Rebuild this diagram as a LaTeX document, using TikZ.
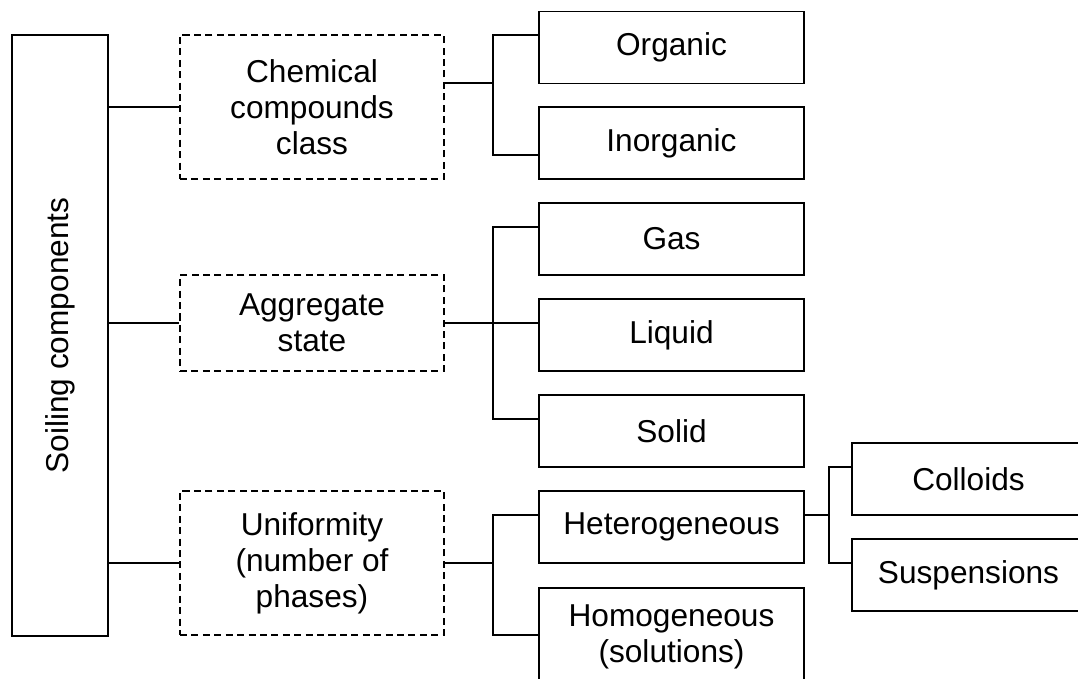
\documentclass[tikz,border=0pt]{standalone}
\usepackage{fontspec}
\setmainfont{Liberation Sans}
\tikzstyle{root} = [rectangle, minimum width=1.92cm, minimum height=12.02cm, text centered, draw=black, line width=0.9pt, font=\fontsize{18pt}{20.5pt}\selectfont]
\tikzstyle{group} = [rectangle, minimum width=5.28cm, align=center, draw=black, line width=0.9pt, dash pattern=on 4pt off 2.5pt, font=\fontsize{18pt}{20.5pt}\selectfont]
\tikzstyle{leaf} = [rectangle, minimum width=5.3cm, minimum height=1.44cm, align=center, draw=black, line width=0.9pt, font=\fontsize{18pt}{20.5pt}\selectfont]
\tikzstyle{small} = [leaf, minimum width=4.66cm]
\tikzstyle{link} = [line width=0.9pt]

\begin{document}
\begin{tikzpicture}
        \useasboundingbox (0,0) rectangle (21.56,-13.58);
        \clip (0,0) rectangle (21.56,-13.58);
        \node (soil) [root, xshift=1.2cm, yshift=-6.71cm] {\rotatebox{90}{Soiling components}};

        \node (chem) [group, minimum height=2.88cm, xshift=6.24cm, yshift=-2.14cm] {Chemical\\compounds\\class};
        \node (aggr) [group, minimum height=1.92cm, xshift=6.24cm, yshift=-6.46cm] {Aggregate\\state};
        \node (unif) [group, minimum height=2.88cm, xshift=6.24cm, yshift=-11.26cm] {Uniformity\\(number of\\phases)};

        \node (org) [leaf, xshift=13.43cm, yshift=-0.95cm] {Organic};
        \node (inorg) [leaf, xshift=13.43cm, yshift=-2.86cm] {Inorganic};
        \node (gas) [leaf, xshift=13.43cm, yshift=-4.78cm] {Gas};
        \node (liq) [leaf, xshift=13.43cm, yshift=-6.70cm] {Liquid};
        \node (sol) [leaf, xshift=13.43cm, yshift=-8.62cm] {Solid};
        \node (het) [leaf, xshift=13.43cm, yshift=-10.54cm] {Heterogeneous};
        \node (hom) [leaf, minimum height=1.96cm, xshift=13.43cm, yshift=-12.74cm] {Homogeneous\\(solutions)};

        \node (coll) [small, xshift=19.37cm, yshift=-9.58cm] {Colloids};
        \node (susp) [small, xshift=19.37cm, yshift=-11.50cm] {Suspensions};

        \draw [link] (chem.west -| soil.east) -- (chem.west);
        \draw [link] (aggr.west -| soil.east) -- (aggr.west);
        \draw [link] (unif.west -| soil.east) -- (unif.west);

        \draw [link] ([yshift=0.48cm]chem.east) -- ++(0.96,0) |- ([yshift=0.25cm]org.west);
        \draw [link] ([yshift=0.48cm]chem.east) ++(0.96,0) |- ([yshift=-0.24cm]inorg.west);

        \draw [link] (aggr.east) -- ([yshift=0.24cm]liq.west);
        \draw [link] (aggr.east) ++(0.96,0) |- ([yshift=0.24cm]gas.west);
        \draw [link] (aggr.east) ++(0.96,0) |- ([yshift=0.24cm]sol.west);

        \draw [link] (unif.east) -- ++(0.96,0) |- ([yshift=0.24cm]het.west);
        \draw [link] (unif.east) ++(0.96,0) |- ([yshift=0.04cm]hom.west);

        \draw [link] ([yshift=0.24cm]het.east) -- ++(0.48,0) |- ([yshift=0.24cm]coll.west);
        \draw [link] ([yshift=0.24cm]het.east) ++(0.48,0) |- ([yshift=0.24cm]susp.west);
\end{tikzpicture}
\end{document}
